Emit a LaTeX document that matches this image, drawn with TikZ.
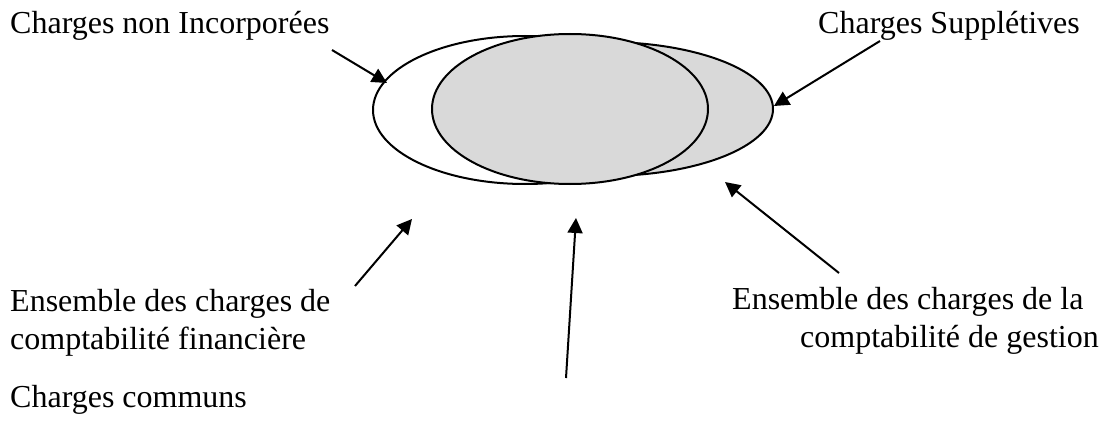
\documentclass[tikz,border=0pt]{standalone}
\usepackage{fontspec}
\setmainfont{Liberation Serif}
\usetikzlibrary{shapes.geometric,arrows.meta}
\begin{document}
\begin{tikzpicture}[x=1pt,y=-1pt,
  lbl/.style={anchor=base west,inner sep=0pt,font=\fontsize{32}{38}\selectfont},
  set/.style={ellipse,draw=black,line width=2pt,inner sep=0pt},
  arr/.style={line width=2pt,-{Triangle[length=15pt,width=15pt]}}]
\useasboundingbox (0,0) rectangle (1101,428);
\fill[white] (0,0) rectangle (1101,428);
% ellipses
\node[set,fill=white,minimum width=304pt,minimum height=148pt] (fin) at (525,110) {};
\node[set,fill=gray!30,minimum width=336pt,minimum height=134pt] (ges) at (605,109) {};
\node[set,fill=gray!30,minimum width=276pt,minimum height=150pt] (com) at (570,109) {};
% labels
\node[lbl] (nonInc) at (10,34) {Charges non Incorporées};
\node[lbl] (suppl) at (818,34) {Charges Supplétives};
\node[lbl] (ensF1) at (10,311) {Ensemble des charges de};
\node[lbl] (ensF2) at (10,349) {comptabilité financière};
\node[lbl] (ensG1) at (732,309) {Ensemble des charges de la};
\node[lbl] (ensG2) at (800,347) {comptabilité de gestion};
\node[lbl] (communs) at (10,407) {Charges communs};
% arrow ends
\coordinate (t1) at (332,50);  \coordinate (h1) at (387,83);
\coordinate (t2) at (880,41);  \coordinate (h2) at (774,106);
\coordinate (t3) at (355,286); \coordinate (h3) at (412,219);
\coordinate (t4) at (566,378); \coordinate (h4) at (576,218);
\coordinate (t5) at (839,273); \coordinate (h5) at (725,182);
\draw[arr] (t1) -- (h1);
\draw[arr] (t2) -- (h2);
\draw[arr] (t3) -- (h3);
\draw[arr] (t4) -- (h4);
\draw[arr] (t5) -- (h5);
\end{tikzpicture}
\end{document}
